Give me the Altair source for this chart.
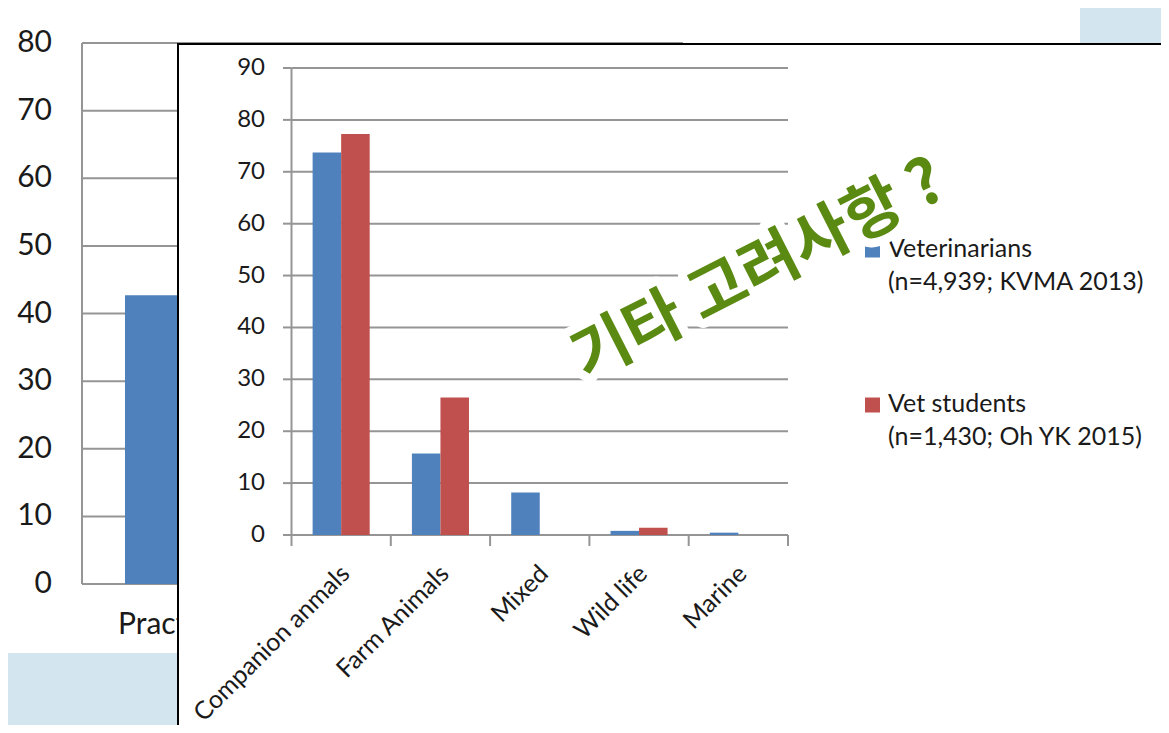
import altair as alt
import pandas as pd

# ---------------- data ----------------
categories = ["Companion anmals", "Farm Animals", "Mixed", "Wild life", "Marine"]
series_names = ["Veterinarians", "Vet students"]
veterinarians = [73.7, 15.7, 8.2, 0.8, 0.45]
vet_students = [77.3, 26.5, 0.0, 1.4, 0.0]
series_colors = ["#4f81bd", "#c0504d"]
legend_labels = ["Veterinarians\n(n=4,939; KVMA 2013)", "Vet students\n(n=1,430; Oh YK 2015)"]
front_ticks = [0, 10, 20, 30, 40, 50, 60, 70, 80, 90]

back_categories = ["Practice"]
back_values = [42.7]
back_ticks = [0, 10, 20, 30, 40, 50, 60, 70, 80]

overlay_text = "기타 고려사항 ?"

# ---------------- tables ----------------
front_df = pd.DataFrame({
    "category": categories * 2,
    "series": [series_names[0]] * len(categories) + [series_names[1]] * len(categories),
    "value": veterinarians + vet_students,
})
front_ticks_df = pd.DataFrame({"v": front_ticks})
cat_df = pd.DataFrame({"category": categories})
last_cat_df = pd.DataFrame({"category": categories[-1:]})
back_df = pd.DataFrame({"cat": back_categories, "val": back_values})
back_ticks_df = pd.DataFrame({"v": back_ticks})
one = pd.DataFrame({"a": [0]})

FONT = "Lato"
TXT = "#1a1a1a"
GRID = "#959595"

# ---------------- back (partly hidden) chart ----------------
back_y = alt.Scale(domain=[0, 80], range=[576, 35], nice=False, zero=False)
back_x = alt.Scale(domain=back_categories, range=[74, 300], paddingInner=0, paddingOuter=0.307)

back_panel = alt.Chart(one).mark_rect(color="white").encode(
    x=alt.value(-2), x2=alt.value(1072), y=alt.value(-3), y2=alt.value(645))

back_grid = alt.Chart(back_ticks_df).mark_rule(color=GRID, strokeWidth=2).encode(
    y=alt.Y("v:Q", scale=back_y, axis=None), x=alt.value(74), x2=alt.value(675))
back_axis = alt.Chart(back_ticks_df).mark_rule(color=GRID, strokeWidth=2).encode(
    y=alt.Y("min(v):Q", scale=back_y, axis=None), y2="max(v):Q", x=alt.value(74))
back_labels = alt.Chart(back_ticks_df).mark_text(
    align="right", baseline="middle", font=FONT, fontSize=30, color=TXT).encode(
    y=alt.Y("v:Q", scale=back_y, axis=None), x=alt.value(44), text="v:Q")
back_bar = alt.Chart(back_df).mark_bar(color=series_colors[0]).encode(
    x=alt.X("cat:N", scale=back_x, axis=None),
    y=alt.Y("val:Q", scale=back_y, axis=None))
back_cat_label = alt.Chart(back_df).mark_text(
    align="left", baseline="middle", font=FONT, fontSize=30, color=TXT, dx=-7, dy=41).encode(
    x=alt.X("cat:N", scale=back_x, bandPosition=0, axis=None),
    y=alt.datum(0), text="cat:N")

back_layer = alt.layer(back_grid, back_axis, back_labels, back_bar, back_cat_label)

# ---------------- front chart ----------------
front_y = alt.Scale(domain=[0, 90], range=[527, 60], nice=False, zero=False)
front_x = alt.Scale(domain=categories, range=[283.5, 780], paddingInner=0, paddingOuter=0)
off_scale = alt.Scale(domain=series_names, paddingInner=0, paddingOuter=0.74)
color_scale = alt.Scale(domain=series_names, range=series_colors)

front_panel = alt.Chart(one).mark_rect(fill="white", stroke="black", strokeWidth=2).encode(
    x=alt.value(170), x2=alt.value(1170), y=alt.value(36), y2=alt.value(740))

front_grid = alt.Chart(front_ticks_df).mark_rule(color=GRID, strokeWidth=2).encode(
    y=alt.Y("v:Q", scale=front_y, axis=None), x=alt.value(283.5), x2=alt.value(780))
front_yaxis = alt.Chart(front_ticks_df).mark_rule(color=GRID, strokeWidth=2).encode(
    y=alt.Y("min(v):Q", scale=front_y, axis=None), y2="max(v):Q", x=alt.value(283.5))
front_yticks = alt.Chart(front_ticks_df).mark_rule(color=GRID, strokeWidth=2).encode(
    y=alt.Y("v:Q", scale=front_y, axis=None), x=alt.value(275), x2=alt.value(283.5))
front_ylabels = alt.Chart(front_ticks_df).mark_text(
    align="right", baseline="middle", font=FONT, fontSize=24, color=TXT).encode(
    y=alt.Y("v:Q", scale=front_y, axis=None), x=alt.value(257), text="v:Q")
front_xticks = alt.Chart(cat_df).mark_rule(color=GRID, strokeWidth=2).encode(
    x=alt.X("category:N", scale=front_x, bandPosition=0, axis=None),
    y=alt.value(527), y2=alt.value(538))
front_xtick_end = alt.Chart(last_cat_df).mark_rule(color=GRID, strokeWidth=2).encode(
    x=alt.X("category:N", scale=front_x, bandPosition=1, axis=None),
    y=alt.value(527), y2=alt.value(538))
front_xlabels = alt.Chart(cat_df).mark_text(
    align="right", baseline="middle", font=FONT, fontSize=25, color=TXT, angle=315,
    dx=6).encode(
    x=alt.X("category:N", scale=front_x, axis=None), y=alt.value(566), text="category:N")
front_bars = alt.Chart(front_df).mark_bar().encode(
    x=alt.X("category:N", scale=front_x, axis=None),
    xOffset=alt.XOffset("series:N", scale=off_scale, sort=series_names),
    y=alt.Y("value:Q", scale=front_y, axis=None),
    color=alt.Color("series:N", scale=color_scale, legend=None))

legend_parts = []
legend_rows = [242, 397]
for i, name in enumerate(series_names):
    d = pd.DataFrame({"series": [name], "label": [legend_labels[i]]})
    sq = alt.Chart(d).mark_square(size=225, opacity=1).encode(
        x=alt.value(864.5), y=alt.value(legend_rows[i]),
        color=alt.Color("series:N", scale=color_scale, legend=None))
    tx = alt.Chart(d).mark_text(
        align="left", baseline="alphabetic", font=FONT, fontSize=25, color=TXT,
        lineBreak="\n", lineHeight=33).encode(
        x=alt.value(880), y=alt.value(legend_rows[i] + 7), text="label:N")
    legend_parts += [sq, tx]

front_layer = alt.layer(front_grid, front_yaxis, front_yticks, front_ylabels,
                        front_xticks, front_xtick_end, front_xlabels, front_bars,
                        *legend_parts)

# ---------------- overlay annotation ----------------
halo = alt.Chart(one).mark_text(
    text=overlay_text, font="Noto Sans CJK KR", fontWeight="bold", fontSize=63,
    angle=333, align="center", baseline="middle", color="white",
    stroke="white", strokeWidth=18, strokeJoin="round").encode(
    x=alt.value(751), y=alt.value(263))
note = alt.Chart(one).mark_text(
    text=overlay_text, font="Noto Sans CJK KR", fontWeight="bold", fontSize=63,
    angle=333, align="center", baseline="middle", color="#5a8a12").encode(
    x=alt.value(751), y=alt.value(263))

chart = alt.layer(back_panel, back_layer, front_panel, front_layer, halo, note).resolve_scale(
    x="independent", y="independent"
).properties(
    width=1153, height=717, padding=0,
    autosize=alt.AutoSizeParams(type="none"),
    background="#d3e5ee",
).configure_view(strokeWidth=0)

chart.save("out.html", embed_options={"renderer": "svg", "actions": False})
